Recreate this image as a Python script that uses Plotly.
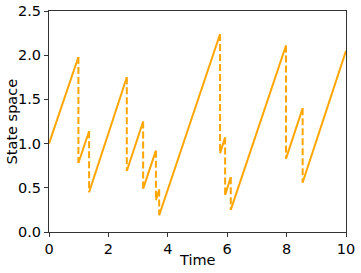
import plotly.graph_objects as go

# Data
start_time = 0.0
start_value = 1.0
end_time = 10.0
end_value = 2.05
jump_times = [0.99, 1.35, 2.62, 3.17, 3.60, 3.71, 5.76, 5.93, 6.12, 7.98, 8.54]
pre_jump = [1.98, 1.14, 1.75, 1.25, 0.92, 0.48, 2.24, 1.07, 0.62, 2.11, 1.40]
post_jump = [0.78, 0.45, 0.69, 0.49, 0.36, 0.19, 0.89, 0.42, 0.25, 0.83, 0.56]

x_ticks = [0, 2, 4, 6, 8, 10]
y_ticks = [0.0, 0.5, 1.0, 1.5, 2.0, 2.5]

color = "#FFA500"

# Solid flow segments
sx, sy = [], []
seg_start_t = [start_time] + jump_times
seg_start_v = [start_value] + post_jump
seg_end_t = jump_times + [end_time]
seg_end_v = pre_jump + [end_value]
for t0, v0, t1, v1 in zip(seg_start_t, seg_start_v, seg_end_t, seg_end_v):
    sx += [t0, t1, None]
    sy += [v0, v1, None]

# Dashed jump segments
dx, dy = [], []
for t, a, b in zip(jump_times, pre_jump, post_jump):
    dx += [t, t, None]
    dy += [a, b, None]

fig = go.Figure()
fig.add_trace(go.Scatter(x=sx, y=sy, mode="lines", line=dict(color=color, width=2), showlegend=False))
fig.add_trace(go.Scatter(x=dx, y=dy, mode="lines", line=dict(color=color, width=2, dash="7px,3px"), showlegend=False))

tf = dict(family="DejaVu Sans", size=14.5, color="black")
axis_common = dict(
    showgrid=False, zeroline=False, showline=True, linecolor="#333333", linewidth=1,
    mirror=True, ticks="outside", ticklen=4, tickcolor="#333333",
    tickfont=tf, automargin=False,
)
fig.update_xaxes(range=[0, 10], tickvals=x_ticks, ticktext=[str(v) for v in x_ticks], **axis_common)
fig.update_yaxes(range=[0, 2.5], tickvals=y_ticks, ticktext=[f"{v:.1f}" for v in y_ticks], **axis_common)
fig.add_annotation(text="Time", xref="paper", yref="paper", x=0.5, y=-0.08,
                   xanchor="center", yanchor="top", showarrow=False, font=tf)
fig.add_annotation(text="State space", xref="paper", yref="paper", x=-0.125, y=0.5,
                   xanchor="center", yanchor="middle", textangle=-90, showarrow=False, font=tf)
fig.update_layout(
    width=361, height=273,
    margin=dict(l=49, r=15, t=11, b=41),
    plot_bgcolor="white", paper_bgcolor="white",
    font=dict(family="DejaVu Sans"),
)
fig.write_html("out.html", config={"displayModeBar": False},
               post_script="document.body.style.margin='0';")
